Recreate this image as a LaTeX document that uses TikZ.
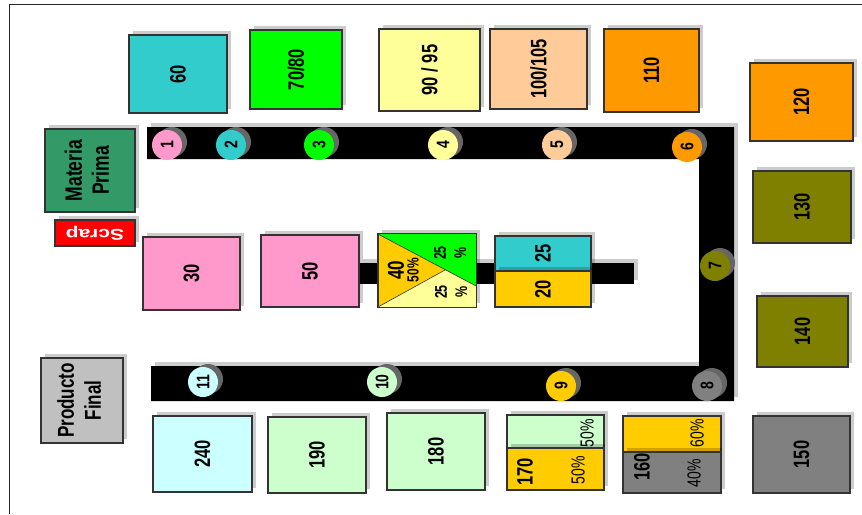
\documentclass[tikz,border=0pt]{standalone}
\usepackage{fontspec}
\setmainfont{Liberation Sans}
\usepackage{graphicx}
\usetikzlibrary{shadows}

\definecolor{cCyan}{HTML}{33CCCC}
\definecolor{cGreen}{HTML}{00FF00}
\definecolor{cLYellow}{HTML}{FFFF99}
\definecolor{cPeach}{HTML}{FFCC99}
\definecolor{cOrange}{HTML}{FF9900}
\definecolor{cOlive}{HTML}{808000}
\definecolor{cGray}{HTML}{808080}
\definecolor{cSea}{HTML}{339966}
\definecolor{cPink}{HTML}{FF99CC}
\definecolor{cGold}{HTML}{FFCC00}
\definecolor{cLGreen}{HTML}{CCFFCC}
\definecolor{cLCyan}{HTML}{CCFFFF}
\definecolor{cSilver}{HTML}{C0C0C0}
\definecolor{cRed}{HTML}{FF0000}
\definecolor{cEdge}{HTML}{333333}

% vertical text, read from bottom to top, stretched across its lines
\newcommand{\vt}[2][1.35]{\rotatebox{90}{\scalebox{1}[#1]{#2}}}
\newcommand{\vtt}[2]{\rotatebox{90}{\scalebox{1}[1.35]{\begin{tabular}{@{}c@{}}#1\\#2\end{tabular}}}}

\tikzset{
  boxshadow/.style={drop shadow={shadow xshift=4pt, shadow yshift=4pt, fill=black, opacity=0.2}},
  box/.style={draw=cEdge, line width=1.1pt, inner sep=0pt, boxshadow,
    font=\bfseries\fontsize{16.5}{20}\selectfont},
  plainbox/.style={draw=cEdge, line width=1.1pt, inner sep=0pt},
  stn/.style={circle, minimum size=30pt, inner sep=0pt,
    drop shadow={shadow xshift=5pt, shadow yshift=3pt, fill=black!60, opacity=1},
    font=\bfseries\fontsize{14}{16}\selectfont},
  lbl/.style={inner sep=0pt},
  belt/.style={fill=black, drop shadow={shadow xshift=4pt, shadow yshift=4pt, fill=black, opacity=0.2}},
}

% machine box from its corners (x1,y1)-(x2,y2), y measured downwards
\newcommand{\bxn}[8][box]{\node[#1, fill=#7, minimum width={#5-#3}, minimum height={#6-#4}]
  (#2) at ({(#3+#5)/2},{(#4+#6)/2}) {#8};}

\begin{document}
\begin{tikzpicture}[x=1pt, y=-1pt]
\useasboundingbox (0,0) rectangle (862,514);
\fill[white] (0,0) rectangle (862,514);

% frame
\draw[black!85, line width=1pt] (9,514) -- (9,4) -- (862,4);

% conveyor belts
\fill[belt] (147,127) -- (734,127) -- (734,401) -- (151,401) -- (151,366)
  -- (699,366) -- (699,159) -- (147,159) -- cycle;
\fill[belt] (359,263) rectangle (634,284);

% upper row of machines
\bxn{m60}{129}{35}{227}{113}{cCyan}{\vt{60}}
\bxn{m70}{250}{30}{342}{109}{cGreen}{\vt{70/80}}
\bxn{m90}{379}{29}{480}{111}{cLYellow}{\vt{90 / 95}}
\bxn{m100}{490}{29}{587}{109}{cPeach}{\vt{100/105}}
\bxn{m110}{604}{29}{699}{112}{cOrange}{\vt{110}}

% right column
\bxn{m120}{750}{63}{853}{141}{cOrange}{\vt{120}}
\bxn{m130}{753}{171}{851}{243}{cOlive}{\vt{130}}
\bxn{m140}{757}{296}{848}{367}{cOlive}{\vt{140}}
\bxn{m150}{753}{416}{850}{493}{cGray}{\vt{150}}

% raw material and scrap
\node[box, fill=cSea, minimum width=90pt, minimum height=83pt,
  font=\bfseries\fontsize{17.5}{20}\selectfont] (mp) at (90,170.5) {\vtt{Materia}{Prima}};
\node[box, fill=cRed, minimum width=80pt, minimum height=26pt, text=white,
  font=\bfseries\fontsize{15.5}{18}\selectfont] (scrap) at (95,233)
  {\rotatebox{180}{\scalebox{1.35}[1]{Scrap}}};

% middle line
\bxn{m30}{143}{237}{240}{310}{cPink}{\vt{30}}
\bxn{m50}{261}{235}{359}{307}{cPink}{\vt{50}}

% split machine 40
\node[plainbox, boxshadow, fill=cGold, minimum width=98pt, minimum height=73pt] (m40) at (427,270.5) {};
\fill[cGreen] (378,234) -- (476,234) -- (476,286) -- cycle;
\fill[cLYellow] (445,270) -- (476,286) -- (476,307) -- (378,307) -- cycle;
\draw[cEdge, line width=0.6pt] (378,234) -- (476,286);
\draw[cEdge, line width=0.6pt] (378,307) -- (445,270);
\draw[cEdge, line width=1.1pt] (m40.north west) rectangle (m40.south east);
\node[lbl, font=\bfseries\fontsize{17}{19}\selectfont] (t40) at (396,270) {\vt{40}};
\node[lbl, font=\bfseries\fontsize{12}{14}\selectfont] (t40b) at (413,270) {\vt{50\%}};
\node[lbl, font=\bfseries\fontsize{12.5}{15}\selectfont] (t40g) at (452,253) {\vtt{25}{\%}};
\node[lbl, font=\bfseries\fontsize{12.5}{15}\selectfont] (t40y) at (453,292) {\vtt{25}{\%}};

% machine 25 / 20
\bxn{m25}{495}{236}{591}{271}{cCyan}{\vt{25}}
\bxn{m20}{495}{271}{591}{307}{cGold}{\vt{20}}

% lower row
\node[box, fill=cSilver, minimum width=82pt, minimum height=85pt,
  font=\bfseries\fontsize{17}{20}\selectfont] (pf) at (82,400.5) {\vtt{Producto}{Final}};
\bxn{m240}{153}{416}{252}{492}{cLCyan}{\vt{240}}
\bxn{m190}{268}{417}{366}{493}{cLGreen}{\vt{190}}
\bxn{m180}{387}{413}{485}{490}{cLGreen}{\vt{180}}

\bxn{m170a}{507}{415}{604}{448}{cLGreen}{}
\bxn{m170b}{507}{448}{604}{490}{cGold}{}
\node[lbl, font=\fontsize{14}{16}\selectfont] (p170a) at (587,433) {\vt{50\%}};
\node[lbl, font=\bfseries\fontsize{16.5}{19}\selectfont] (t170) at (525,472) {\vt{170}};
\node[lbl, font=\fontsize{14}{16}\selectfont] (p170b) at (578,470) {\vt{50\%}};

\bxn{m160a}{623}{416}{721}{452}{cGold}{}
\bxn{m160b}{623}{452}{721}{493}{cGray}{}
\node[lbl, font=\fontsize{14}{16}\selectfont] (p160a) at (697,433) {\vt{60\%}};
\node[lbl, font=\bfseries\fontsize{16.5}{19}\selectfont] (t160) at (642,467) {\vt{160}};
\node[lbl, font=\fontsize{14}{16}\selectfont] (p160b) at (694,473) {\vt{40\%}};

% stations along the belt
\node[stn, fill=cPink] (s1) at (167,145) {\vt[1.3]{1}};
\node[stn, fill=cCyan] (s2) at (231,145) {\vt[1.3]{2}};
\node[stn, fill=cGreen] (s3) at (319,145) {\vt[1.3]{3}};
\node[stn, fill=cLYellow] (s4) at (443,145) {\vt[1.3]{4}};
\node[stn, fill=cPeach] (s5) at (557,145) {\vt[1.3]{5}};
\node[stn, fill=cOrange] (s6) at (687,147) {\vt[1.3]{6}};
\node[stn, fill=cOlive] (s7) at (715,266) {\vt[1.3]{7}};
\node[stn, fill=cGray] (s8) at (707,386) {\vt[1.3]{8}};
\node[stn, fill=cGold] (s9) at (561,386) {\vt[1.3]{9}};
\node[stn, fill=cLGreen] (s10) at (382,382) {\vt[1.3]{10}};
\node[stn, fill=cLCyan] (s11) at (203,382) {\vt[1.3]{11}};
\end{tikzpicture}
\end{document}
